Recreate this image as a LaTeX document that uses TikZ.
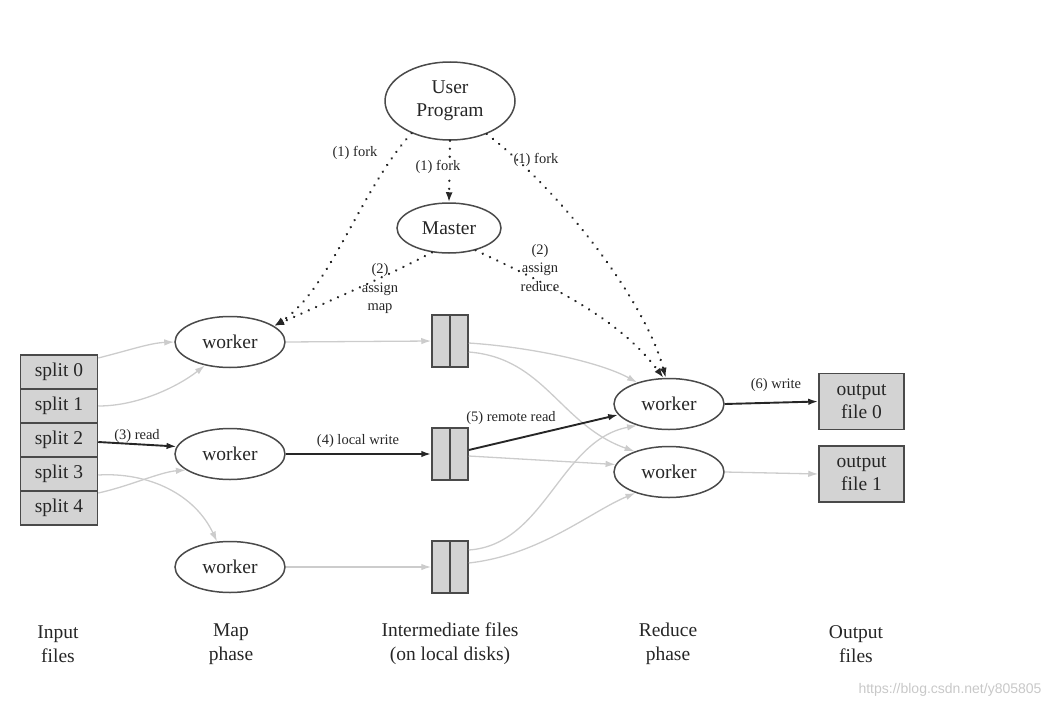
\documentclass[tikz,border=0pt]{standalone}
\usepackage{fontspec}
\setmainfont{Liberation Serif}
\newfontfamily\wmfont{Liberation Sans}
\usetikzlibrary{shapes.geometric,arrows.meta}
\definecolor{edgegrey}{HTML}{CCCCCC}
\definecolor{boxfill}{HTML}{D3D3D3}
\definecolor{ink}{HTML}{262626}
\definecolor{bordergrey}{HTML}{4A4A4A}
\definecolor{wmgrey}{HTML}{C8C8C8}
\begin{document}
\begin{tikzpicture}[x=1pt,y=-1pt,
  ell/.style={ellipse, draw=bordergrey, line width=1.5pt, inner sep=0pt,
    font=\fontsize{19.5}{23}\selectfont, text=ink, align=center},
  worker/.style={ell, minimum width=110pt, minimum height=51pt},
  filebox/.style={rectangle, draw=bordergrey, fill=boxfill, line width=1.5pt,
    inner sep=0pt, font=\fontsize{19.5}{23}\selectfont, text=ink, align=center},
  splitbox/.style={filebox, minimum width=77pt, minimum height=34pt},
  interbox/.style={filebox, minimum width=36pt, minimum height=52pt},
  outbox/.style={filebox, minimum width=85pt, minimum height=56pt},
  lbl/.style={font=\fontsize{14.5}{18.5}\selectfont, text=ink, align=center, inner sep=1pt},
  caption/.style={font=\fontsize{19.5}{24}\selectfont, text=ink, align=center},
  greyedge/.style={draw=edgegrey, line width=1.3pt, -{Latex[length=10pt,width=6.5pt]}},
  blackedge/.style={draw=ink, line width=1.9pt, -{Latex[length=10pt,width=6.5pt]}},
  dotedge/.style={draw=ink, line width=2.6pt, line cap=round,
    dash pattern=on 0.01pt off 8pt, -{Latex[length=10pt,width=7pt]}},
]
\useasboundingbox (0,0) rectangle (1064,709);

% nodes
\node[ell, minimum width=130pt, minimum height=78pt] (user) at (450,101) {User\\Program};
\node[ell, minimum width=104pt, minimum height=50pt] (master) at (449,228) {Master};

\node[worker] (w1) at (230,342) {worker};
\node[worker] (w2) at (230,454) {worker};
\node[worker] (w3) at (230,567) {worker};

\node[splitbox] (s0) at (59,372) {split 0};
\node[splitbox] (s1) at (59,406) {split 1};
\node[splitbox] (s2) at (59,440) {split 2};
\node[splitbox] (s3) at (59,474) {split 3};
\node[splitbox] (s4) at (59,508) {split 4};

\node[interbox] (i1) at (450,341) {};
\node[interbox] (i2) at (450,454) {};
\node[interbox] (i3) at (450,567) {};
\foreach \n in {i1,i2,i3} \draw[draw=bordergrey, line width=1.5pt] (\n.north) -- (\n.south);

\node[worker] (r1) at (669,404) {worker};
\node[worker] (r2) at (669,472) {worker};

\node[outbox] (o0) at (861.5,401.5) {output\\file 0};
\node[outbox] (o1) at (861.5,474) {output\\file 1};

% input -> map
\draw[greyedge] ([yshift=14pt]s0.east) .. controls (130,350) and (150,343) .. (w1.west);
\draw[greyedge] (s1.east) .. controls (140,406) and (180,385) .. (w1.223);
\draw[greyedge] ([yshift=-1pt]s3.east) .. controls (150,472) and (195,495) .. (w3.117);
\draw[greyedge] ([yshift=-19pt]s3.east) .. controls (130,486) and (160,472) .. (w2.200);
\draw[blackedge] ([yshift=-2pt]s2.east) -- (w2.172);

% map -> intermediate
\draw[greyedge] (w1.east) -- (i1.west);
\draw[blackedge] (w2.east) -- (i2.west);
\draw[greyedge] (w3.east) -- (i3.west);

% intermediate -> reduce
\draw[greyedge] ([yshift=-2pt]i1.east) .. controls (530,347) and (600,362) .. (r1.146);
\draw[greyedge] ([yshift=-11pt]i1.east) .. controls (545,358) and (560,425) .. (r2.149);
\draw[blackedge] ([yshift=4pt]i2.east) -- (r1.192);
\draw[greyedge] ([yshift=-2pt]i2.east) -- (r2.172);
\draw[greyedge] ([yshift=17pt]i3.east) .. controls (545,545) and (560,440) .. (r1.214);
\draw[greyedge] ([yshift=4pt]i3.east) .. controls (540,555) and (590,512) .. (r2.212);

% reduce -> output
\draw[blackedge] (r1.east) -- (o0.west);
\draw[greyedge] (r2.east) -- (o1.west);

% dotted control edges
\draw[dotedge] (user.220) .. controls (360,190) and (330,290) .. (w1.20);
\draw[dotedge] (master.235) .. controls (390,275) and (320,305) .. (w1.20);
\draw[dotedge] (user.south) -- (master.north);
\draw[dotedge] (user.318) .. controls (560,190) and (645,300) .. (r1.97);
\draw[dotedge] (master.320) .. controls (560,290) and (620,320) .. (r1.102);

% labels
\node[lbl] (lf1) at (355,153) {(1) fork};
\node[lbl, fill=white] (lf2) at (438,167) {(1) fork};
\node[lbl] (lf3) at (536,160) {(1) fork};
\node[lbl] (lam) at (380,289) {(2)\\assign\\map};
\node[lbl] (lar) at (540,268) {(2)\\assign\\reduce};
\node[lbl] (lrd) at (137,436) {(3) read};
\node[lbl] (llw) at (358,441) {(4) local write};
\node[lbl] (lrr) at (511,418) {(5) remote read};
\node[lbl] (lwr) at (776,385) {(6) write};

% captions
\node[caption] (c1) at (58,644) {Input\\files};
\node[caption] (c2) at (231,644) {Map\\phase};
\node[caption] (c3) at (450,644) {Intermediate files\\(on local disks)};
\node[caption] (c4) at (668,644) {Reduce\\phase};
\node[caption] (c5) at (856,644) {Output\\files};

\node[font=\wmfont\fontsize{14}{16}\selectfont, text=wmgrey] (wm) at (950,690) {https://blog.csdn.net/y805805};
\end{tikzpicture}
\end{document}
